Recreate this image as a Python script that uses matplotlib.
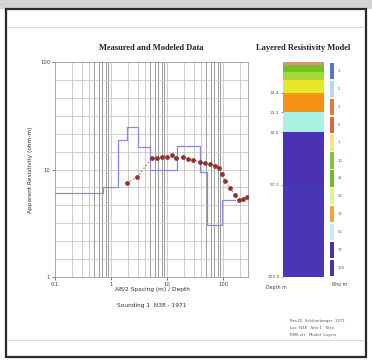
import matplotlib
matplotlib.use("Agg")
import matplotlib.pyplot as plt
from matplotlib.patches import Rectangle
from matplotlib.lines import Line2D
import numpy as np

# ---- measured / modeled sounding data ----
model_x = [0.1, 0.72, 1.33, 1.93, 3.04, 4.97, 15.1, 38.8, 51.8, 96, 164]
model_rho = [6.04, 6.87, 18.8, 24.9, 16.2, 10.0, 16.5, 9.5, 3.05, 5.2]

meas_x = [1.93, 2.91, 5.4, 6.6, 8.1, 10.0, 12.3, 14.5, 19.3, 23.7, 29.1,
          38.8, 47.7, 58.6, 72, 84.8, 96, 109, 133, 164, 193, 228, 268]
meas_rho = [7.49, 8.51, 12.8, 12.8, 13.1, 13.1, 13.6, 12.8, 13.1, 12.5, 12.3,
            11.7, 11.5, 11.3, 10.8, 10.3, 9.08, 7.82, 6.73, 5.79, 5.2, 5.32, 5.55]

x_ticks = [0.1, 1, 10, 100]
x_ticklabels = ["0.1", "1", "10", "100"]
y_ticks = [1, 10, 100]
y_ticklabels = ["1", "10", "100"]

# ---- layered model ----
layer_tops = [0.0, 1.4, 4.7, 8.4, 14.4, 23.3, 32.6, 57.2]
layer_bottoms = [1.4, 4.7, 8.4, 14.4, 23.3, 32.6, 57.2, 100.0]
layer_colors = ["#cf9a72", "#72c226", "#a6d83a", "#e8e62a", "#f59216",
                "#a8f2e2", "#4a30b2", "#4836b6"]
depth_ticks = [14.4, 23.3, 32.6, 57.2, 100.0]
depth_ticklabels = ["14.4", "23.3", "32.6", "57.2", "100.0"]

key_colors = ["#5a74c8", "#b4d8ee", "#e0784a", "#d8683a", "#f2e48a", "#82c444",
              "#74b834", "#e2f28a", "#f2a444", "#c8eae8", "#4a36a8", "#4a36a8"]
key_labels = ["1", "2", "3", "5", "7", "10", "15", "20", "30", "50", "70", "100"]

W, H = 372, 361
fig = plt.figure(figsize=(W / 100, H / 100), dpi=100)
fig.patch.set_facecolor("white")

def fx(px):
    return px / W

def fy(py):
    return 1 - py / H

serif = ["Liberation Serif", "DejaVu Serif"]

# ---- page frame ----
fig.add_artist(Rectangle((0, fy(9)), 1, 9 / H, transform=fig.transFigure,
                         facecolor="#d4d4d4", edgecolor="none", zorder=-1))
fig.add_artist(Rectangle((fx(6), fy(357)), fx(360), (357 - 9) / H,
                         transform=fig.transFigure, facecolor="none",
                         edgecolor="#2a2a2a", linewidth=1.6, zorder=-1))
fig.add_artist(Line2D([fx(8), fx(364)], [fy(27), fy(27)], transform=fig.transFigure,
                      color="#dcdcdc", linewidth=0.8, zorder=-1))
fig.add_artist(Line2D([fx(8), fx(364)], [fy(340), fy(340)], transform=fig.transFigure,
                      color="#dcdcdc", linewidth=0.8, zorder=-1))

# ---- sounding curve axes ----
ax = fig.add_axes([fx(55), fy(277), fx(248) - fx(55), fy(62) - fy(277)])
ax.set_xscale("log")
ax.set_yscale("log")
ax.set_xlim(0.1, 279)
ax.set_ylim(1, 100)

# vertical grid at every log sub-decade
for dec in [0.1, 1, 10, 100]:
    for m in range(1, 10):
        v = dec * m
        if 0.1 < v < 279:
            ax.axvline(v, color="#8a8a8a" if m >= 5 else "#c4c4c4",
                       linewidth=0.6, zorder=1)
# horizontal grid evenly spaced in log
for k in np.arange(1, 12):
    ax.axhline(10 ** (k / 6), color="#c8c8c8", linewidth=0.6, zorder=1)

ax.step(model_x, model_rho + [model_rho[-1]], where="post",
        color="#8a8ae2", linewidth=0.9, zorder=3)
ax.plot(meas_x, meas_rho, linestyle=":", color="#d07878", linewidth=1.0, zorder=4)
ax.plot(meas_x, meas_rho, linestyle="none", marker="o", markersize=2.4,
        color="#8e3232", zorder=5)

ax.set_xticks(x_ticks)
ax.set_xticklabels(x_ticklabels)
ax.set_yticks(y_ticks)
ax.set_yticklabels(y_ticklabels)
ax.minorticks_off()
ax.tick_params(labelsize=3.8, length=2, width=0.5, pad=1.5, colors="#444444")
for s in ax.spines.values():
    s.set_color("#9a9a9a")
    s.set_linewidth(0.6)
ax.set_title("Measured and Modeled Data", fontsize=6, fontweight="bold",
             family=serif, pad=9, color="#222222")
ax.set_ylabel("Apparent Resistivity (ohm-m)", fontsize=4.2, color="#333333",
              labelpad=5)
fig.text(fx(152), fy(290), "AB/2 Spacing (m) / Depth", fontsize=4.2,
         ha="center", va="center", color="#333333")
fig.text(fx(152), fy(305), "Sounding 1  N38 - 1971", fontsize=4.2,
         ha="center", va="center", color="#333333")

# ---- layered resistivity model column ----
ax2 = fig.add_axes([fx(283), fy(277), fx(324) - fx(283), fy(62) - fy(277)])
for top, bot, c in zip(layer_tops, layer_bottoms, layer_colors):
    ax2.bar(0.5, bot - top, bottom=top, width=1.0, color=c, edgecolor="none")
ax2.set_xlim(0, 1)
ax2.set_ylim(100, 0)
ax2.set_xticks([])
ax2.set_yticks(depth_ticks)
ax2.set_yticklabels(depth_ticklabels)
ax2.tick_params(labelsize=3.2, length=1.5, width=0.4, pad=1, colors="#555555")
for s in ax2.spines.values():
    s.set_visible(False)
ax2.set_title("Layered Resistivity Model", fontsize=6, fontweight="bold",
              family=serif, pad=9, color="#222222")
fig.text(fx(276), fy(287), "Depth m", fontsize=3.4, ha="center", va="center",
         color="#444444")
fig.text(fx(340), fy(285), "Rho m", fontsize=3.4, ha="center", va="center",
         color="#444444")

# ---- colour key strip ----
ax3 = fig.add_axes([fx(330), fy(277), fx(334) - fx(330), fy(62) - fy(277)])
n = len(key_colors)
for i, (c, lab) in enumerate(zip(key_colors, key_labels)):
    ax3.bar(0.5, 0.9, bottom=i + 0.05, width=1.0, color=c, edgecolor="none")
    ax3.text(2.0, i + 0.5, lab, fontsize=2.6, va="center", ha="left",
             color="#555555")
ax3.set_xlim(0, 1)
ax3.set_ylim(n, 0)
ax3.axis("off")

# ---- info block ----
info = ["Res1D  Schlumberger  1971", "Loc: N38   Site 1   Elev", "RMS err   Model  Layers"]
for i, line in enumerate(info):
    fig.text(fx(290), fy(321 + i * 7), line, fontsize=2.8, ha="left",
             va="center", color="#555555")

fig.savefig("out.png", dpi=100, facecolor="white")
